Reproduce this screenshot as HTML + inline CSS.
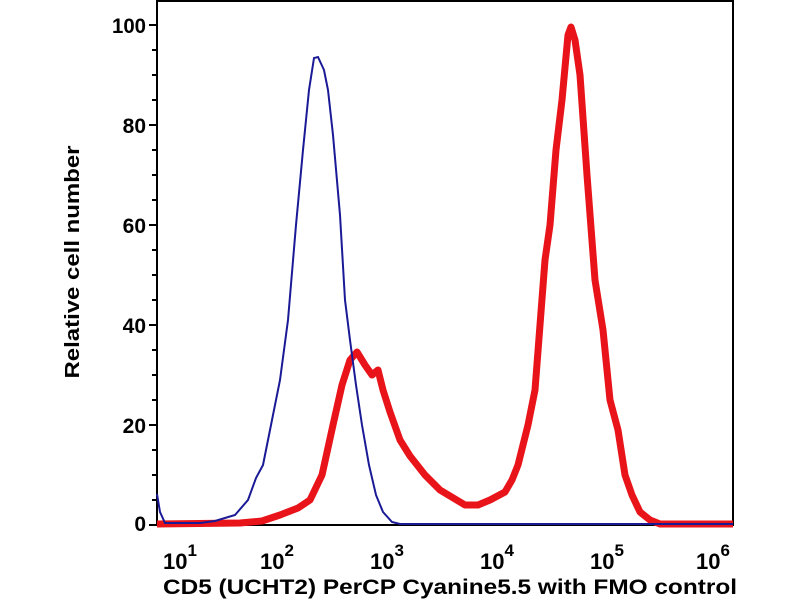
<!DOCTYPE html>
<html><head><meta charset="utf-8"><style>
body{margin:0;background:#fff;}
svg text{font-family:"Liberation Sans",Arial,sans-serif;font-weight:bold;fill:#000;}
</style></head><body>
<svg width="800" height="600" viewBox="0 0 800 600" xmlns="http://www.w3.org/2000/svg">
<rect x="157" y="1" width="576" height="524" fill="none" stroke="#000" stroke-width="2"/>
<g stroke="#000" stroke-width="2">
<line x1="149" y1="25" x2="157" y2="25"/><line x1="149" y1="125" x2="157" y2="125"/><line x1="149" y1="225" x2="157" y2="225"/><line x1="149" y1="325" x2="157" y2="325"/><line x1="149" y1="425" x2="157" y2="425"/><line x1="149" y1="525" x2="157" y2="525"/>
<line x1="152" y1="50" x2="157" y2="50"/><line x1="152" y1="75" x2="157" y2="75"/><line x1="152" y1="100" x2="157" y2="100"/>
<line x1="152" y1="150" x2="157" y2="150"/><line x1="152" y1="175" x2="157" y2="175"/><line x1="152" y1="200" x2="157" y2="200"/>
<line x1="152" y1="250" x2="157" y2="250"/><line x1="152" y1="275" x2="157" y2="275"/><line x1="152" y1="300" x2="157" y2="300"/>
<line x1="152" y1="350" x2="157" y2="350"/><line x1="152" y1="375" x2="157" y2="375"/><line x1="152" y1="400" x2="157" y2="400"/>
<line x1="152" y1="450" x2="157" y2="450"/><line x1="152" y1="475" x2="157" y2="475"/><line x1="152" y1="500" x2="157" y2="500"/>
</g>
<g id="xt" stroke="#000" stroke-width="2"></g>
<g font-size="21" text-anchor="end">
<text x="146" y="33" textLength="34" lengthAdjust="spacingAndGlyphs">100</text><text x="146" y="133">80</text><text x="146" y="233">60</text><text x="146" y="333">40</text><text x="146" y="433">20</text><text x="146" y="531">0</text>
</g>
<g font-size="22">
<text x="163" y="569">10<tspan dy="-13" font-size="17">1</tspan></text>
<text x="260" y="569">10<tspan dy="-13" font-size="17">2</tspan></text>
<text x="370" y="569">10<tspan dy="-13" font-size="17">3</tspan></text>
<text x="480" y="569">10<tspan dy="-13" font-size="17">4</tspan></text>
<text x="590" y="569">10<tspan dy="-13" font-size="17">5</tspan></text>
<text x="696" y="569">10<tspan dy="-13" font-size="17">6</tspan></text>
</g>
<text x="163" y="594" font-size="21" textLength="574" lengthAdjust="spacingAndGlyphs">CD5 (UCHT2) PerCP Cyanine5.5 with FMO control</text>
<text transform="translate(79,262) rotate(-90)" font-size="20" text-anchor="middle" textLength="233" lengthAdjust="spacingAndGlyphs">Relative cell number</text>
<polyline fill="none" stroke="#e8141a" stroke-width="7" stroke-linejoin="round" points="157,524 240,523 262,521 280,515 298,508 310,500 322,475 333,425 342,385 350,360 357,352 365,365 372,375 378,370 383,390 390,412 400,440 410,456 425,475 440,490 455,499 465,505 478,505 490,500 505,492 512,480 518,465 528,425 535,390 540,325 545,260 550,225 556,150 562,100 568,35 571,27 575,40 580,75 587,175 595,280 603,330 610,400 618,430 625,475 632,495 640,512 650,520 660,524 733,524"/>
<polyline fill="none" stroke="#1a1a96" stroke-width="2" points="157,494 160,512 165,523 200,523 215,521 235,515 248,500 256,478 263,465 270,430 280,380 288,320 296,225 303,150 309,90 314,58 318,57 324,70 328,90 333,135 340,215 345,300 350,340 356,385 362,425 369,465 376,495 383,512 392,522 400,524 733,524"/>
<script>
var g=document.getElementById('xt'),s='';
for(var d=1;d<=6;d++){var base=157+110*(d-1);
 s+='<line x1="'+base+'" y1="525" x2="'+base+'" y2="534"/>';
 for(var m=2;m<=9;m++){var x=base+110*Math.log10(m);if(x<733)s+='<line x1="'+x+'" y1="525" x2="'+x+'" y2="530"/>';}}
g.innerHTML=s;
</script>
</svg>
</body></html>
